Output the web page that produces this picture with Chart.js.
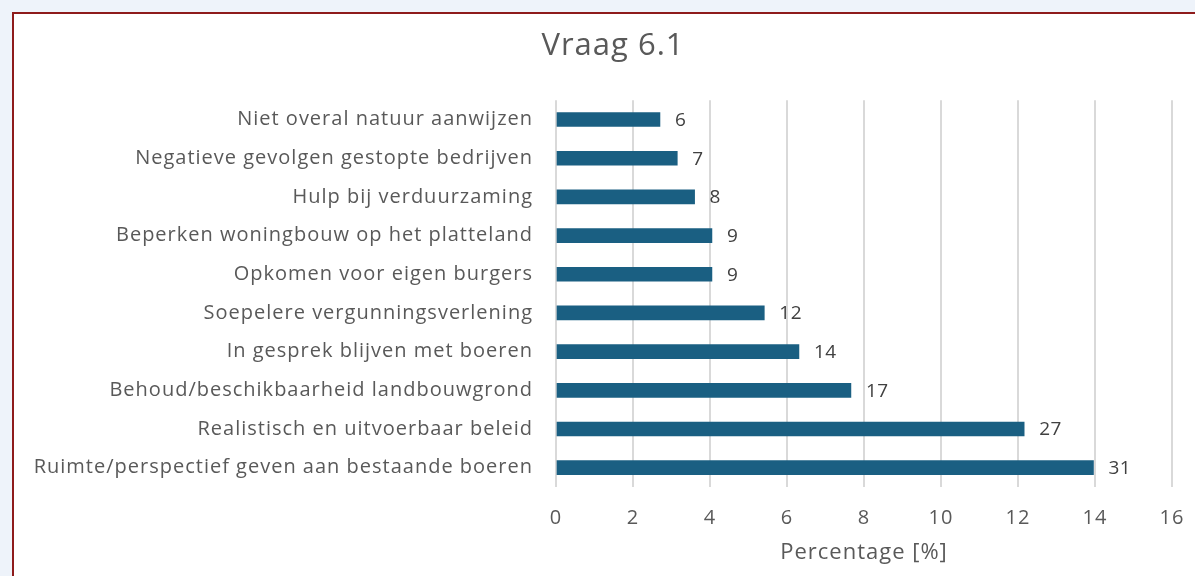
<!DOCTYPE html>
<html>
<head>
<meta charset="utf-8">
<title>Vraag 6.1</title>
<script src="https://cdn.jsdelivr.net/npm/chart.js@4.4.1/dist/chart.umd.min.js"></script>
<style>
body { margin: 0; background: #eef3fa; overflow: hidden; width: 1195px; height: 576px; position: relative; }
#kader { position: absolute; left: 12px; top: 12px; width: 1300px; height: 700px; background: #fff; border: 2px solid #8e1b1b; }
#wrap { position: absolute; left: 12px; top: 0; width: 1202px; height: 576px; }
</style>
</head>
<body>
<div id="kader"></div>
<div id="wrap"><canvas id="myChart" width="1202" height="576"></canvas></div>
<script>
// antwoorden (van boven naar beneden)
var categorieen = [
    "Niet overal natuur aanwijzen",
    "Negatieve gevolgen gestopte bedrijven",
    "Hulp bij verduurzaming",
    "Beperken woningbouw op het platteland",
    "Opkomen voor eigen burgers",
    "Soepelere vergunningsverlening",
    "In gesprek blijven met boeren",
    "Behoud/beschikbaarheid landbouwgrond",
    "Realistisch en uitvoerbaar beleid",
    "Ruimte/perspectief geven aan bestaande boeren"
];
var percentages = [2.70, 3.15, 3.60, 4.05, 4.05, 5.41, 6.31, 7.66, 12.16, 13.96]; // lengte van de balk
var aantallen = [6, 7, 8, 9, 9, 12, 14, 17, 27, 31]; // label achter de balk
var xTicks = [0, 2, 4, 6, 8, 10, 12, 14, 16];

var lettertype = "'Open Sans', 'Noto Sans', sans-serif";

// iets meer ruimte tussen de letters, zoals in het origineel
var spatiePlugin = {
    id: 'letterSpatie',
    beforeDraw: function (chart) { chart.ctx.letterSpacing = '1px'; },
    afterDraw: function (chart) { chart.ctx.letterSpacing = '0px'; }
};

// tekent het aantal rechts van elke balk
var labelPlugin = {
    id: 'aantalLabels',
    afterDatasetsDraw: function (chart) {
        var ctx = chart.ctx;
        var meta = chart.getDatasetMeta(0);
        ctx.save();
        ctx.letterSpacing = '0.5px';
        ctx.font = "19px " + lettertype;
        ctx.fillStyle = "#404040";
        ctx.textAlign = "left";
        ctx.textBaseline = "middle";
        meta.data.forEach(function (bar, i) {
            ctx.fillText(aantallen[i], bar.x + 15, bar.y + 1);
        });
        ctx.restore();
    }
};

var grafica = new Chart(document.getElementById("myChart"), {
    type: 'bar',
    data: {
        labels: categorieen,
        datasets: [{
            data: percentages,
            backgroundColor: "#1a5f82",
            barThickness: 14
        }]
    },
    options: {
        indexAxis: 'y',
        responsive: false,
        animation: false,
        layout: { padding: { left: 42, right: 42, top: 0, bottom: 0 } },
        plugins: {
            legend: { display: false },
            tooltip: { enabled: false },
            title: {
                display: true,
                text: "Vraag 6.1",
                color: "#595959",
                font: { family: lettertype, size: 31, weight: 'normal' },
                padding: { top: 28, bottom: 35 }
            }
        },
        scales: {
            x: {
                min: 0,
                max: 16,
                afterBuildTicks: function (s) { s.ticks = xTicks.map(function (v) { return { value: v }; }); },
                afterFit: function (s) { s.height = 89; },
                grid: { color: "#d9d9d9", lineWidth: 2, drawTicks: false },
                border: { display: false },
                ticks: { color: "#595959", padding: 19, font: { family: lettertype, size: 20 } },
                title: {
                    display: true,
                    text: "Percentage [%]",
                    color: "#595959",
                    font: { family: lettertype, size: 22 },
                    padding: { top: 0, bottom: 10 }
                }
            },
            y: {
                afterFit: function (s) {
                    s.width = 502;
                    // lange labels niet afknippen aan de linkerkant
                    s._computeLabelArea = function () { return undefined; };
                },
                grid: { display: false, drawTicks: false },
                border: { display: false },
                ticks: { color: "#595959", padding: 23, font: { family: lettertype, size: 20 } }
            }
        }
    },
    plugins: [spatiePlugin, labelPlugin]
});
</script>
</body>
</html>
